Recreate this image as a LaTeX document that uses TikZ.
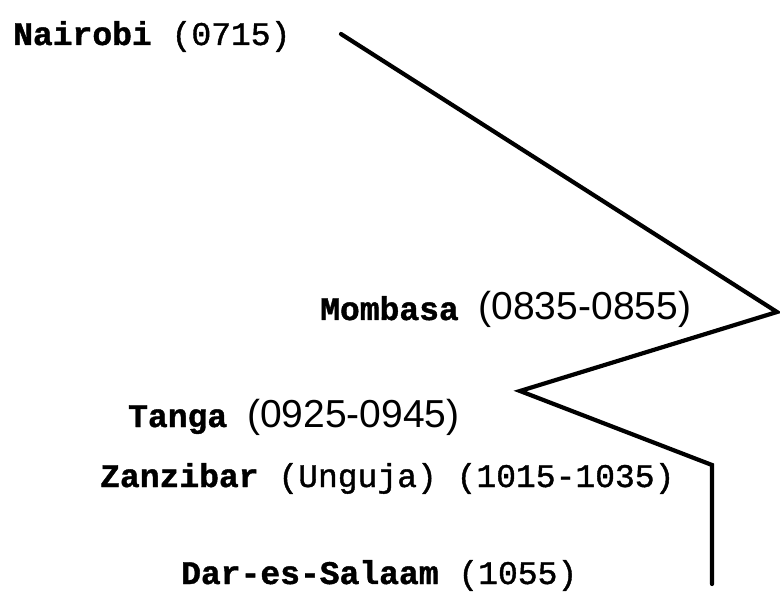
\documentclass[tikz,border=0pt]{standalone}
\usepackage{fontspec}
\setmonofont{Liberation Mono}[FakeBold=1.2]
\newfontfamily\numfont{Liberation Sans}
\begin{document}
\begin{tikzpicture}[x=1pt,y=-1pt,
  lbl/.style={anchor=base west,inner sep=0pt,font=\fontsize{33}{38}\selectfont\ttfamily},
  route/.style={line width=4.2pt,line join=miter,line cap=round}]
\useasboundingbox (0,0) rectangle (780,596);
\newcommand{\nm}[1]{{\bfseries #1}}
\newcommand{\sn}[1]{{\fontsize{39}{44}\selectfont\numfont #1}}
\node[lbl] (nai) at (13,45) {\nm{Nairobi} (0715)};
\node[lbl] (mom) at (320,320) {\nm{Mombasa} \sn{(0835-0855)}};
\node[lbl] (tan) at (128,427) {\nm{Tanga} \sn{(0925-0945)}};
\node[lbl] (zan) at (100,487) {\nm{Zanzibar} (Unguja) (1015-1035)};
\node[lbl] (dar) at (181,584) {\nm{Dar-es-Salaam} (1055)};
\coordinate (p0) at (341,34);
\coordinate (p1) at (777,312);
\coordinate (p2) at (520,391);
\coordinate (p3) at (712,465);
\coordinate (p4) at (712,584);
\draw[route] (p0) -- (p1) -- (p2) -- (p3) -- (p4);
\end{tikzpicture}
\end{document}
